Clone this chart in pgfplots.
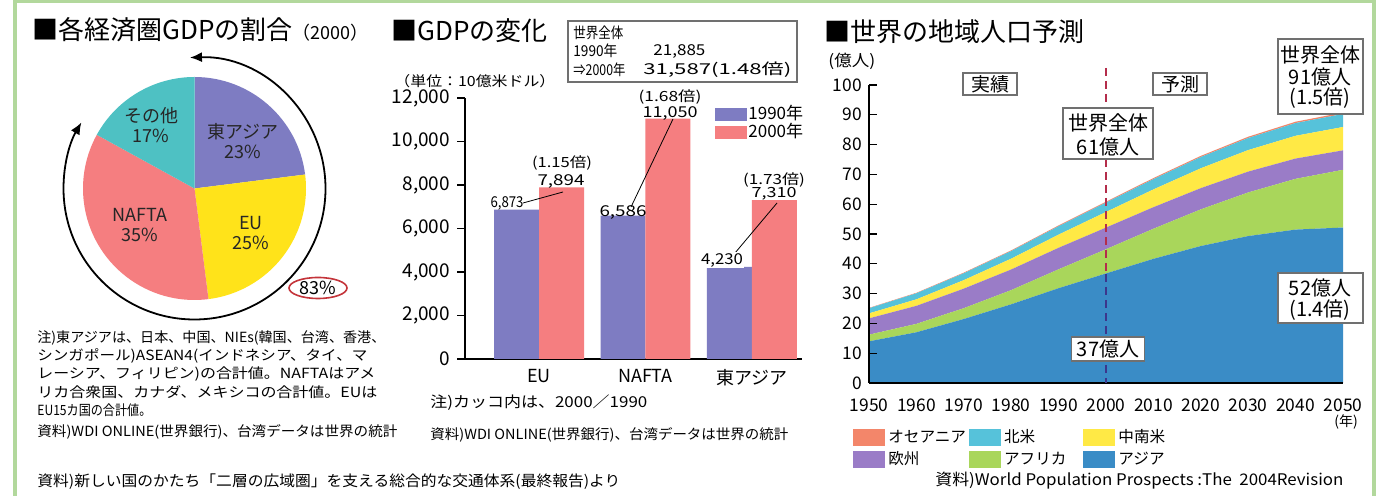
\documentclass[border=0pt]{standalone}
\usepackage{fontspec}
\setmainfont{Noto Sans CJK JP}
\usepackage{graphicx}
\usepackage{pgfplots}
\usepackage{pgfplotstable}
\pgfplotsset{compat=1.18}
\usetikzlibrary{arrows.meta,shapes.geometric}

\newcommand\fw[2]{\resizebox{#1}{\height}{#2}}
\newcommand\fs[1]{\fontsize{#1}{#1}\selectfont}

\definecolor{pPurple}{HTML}{7E7CC2}
\definecolor{pSalmon}{HTML}{F57E80}
\definecolor{pYellow}{HTML}{FFE31A}
\definecolor{pTeal}{HTML}{4EC1C3}
\definecolor{aAsia}{HTML}{3A8CC6}
\definecolor{aAfrica}{HTML}{A9D65B}
\definecolor{aEurope}{HTML}{9A7CC7}
\definecolor{aLatin}{HTML}{FFE945}
\definecolor{aNA}{HTML}{56C2DA}
\definecolor{aOce}{HTML}{F3866A}
\definecolor{frameG}{HTML}{B2D89C}
\definecolor{boxG}{HTML}{707070}
\definecolor{ringRed}{HTML}{C4343A}
\definecolor{dashRed}{HTML}{B42D4B}
\definecolor{dashBlue}{HTML}{3C378C}

\pgfplotstableread{
year asia africa europe latin namer oceania
1950 13.98 2.24 5.47 1.67 1.72 0.13
1960 17.02 2.82 6.05 2.18 2.04 0.16
1970 21.47 3.64 6.56 2.85 2.32 0.20
1980 26.41 4.76 6.93 3.62 2.56 0.23
1990 31.81 6.34 7.22 4.42 2.83 0.27
2000 36.76 8.12 7.28 5.23 3.16 0.31
2010 41.66 10.10 7.23 5.96 3.47 0.35
2020 45.96 12.30 7.13 6.66 3.78 0.39
2030 49.30 14.64 7.00 7.22 4.06 0.42
2040 51.48 17.03 6.81 7.63 4.28 0.45
2050 52.17 19.37 6.53 7.83 4.38 0.48
}\popdata

\pgfplotstableread{
x y1990 y2000
0 6873 7894
1 6586 11050
2 4230 7310
}\gdpdata

% pie shares (%)
\def\shEA{23}\def\shEU{25}\def\shNA{35}\def\shOT{17}

\pgfplotsset{
  sqbar/.style={legend image code/.code={\fill[##1] (0pt,-3.25pt) rectangle (16pt,3.25pt);}},
  sqpop/.style={legend image code/.code={\fill[##1] (0pt,-4.25pt) rectangle (16pt,4.25pt);}},
}

\begin{document}
\begin{tikzpicture}
\useasboundingbox (0,0) rectangle (689.5pt,248pt);
\fill[white] (0,0) rectangle (689.5pt,248pt);

\pgfmathsetmacro\aA{90}
\pgfmathsetmacro\aB{90-3.6*\shEA}
\pgfmathsetmacro\aC{\aB-3.6*\shEU}
\pgfmathsetmacro\aD{\aC-3.6*\shNA}
\pgfmathsetmacro\aE{\aD-3.6*\shOT}

% ---------------- pie ----------------
\begin{axis}[at={(97.25pt,153.75pt)}, anchor=center, scale only axis,
  width=140pt, height=140pt, xmin=-1, xmax=1, ymin=-1, ymax=1,
  hide axis, clip=false]
\fill[pPurple] (axis cs:0,0) -- ++(\aA:55.75pt) arc[start angle=\aA, end angle=\aB, radius=55.75pt] -- cycle;
\fill[pYellow] (axis cs:0,0) -- ++(\aB:55.75pt) arc[start angle=\aB, end angle=\aC, radius=55.75pt] -- cycle;
\fill[pSalmon] (axis cs:0,0) -- ++(\aC:55.75pt) arc[start angle=\aC, end angle=\aD, radius=55.75pt] -- cycle;
\fill[pTeal] (axis cs:0,0) -- ++(\aD:55.75pt) arc[start angle=\aD, end angle=\aE, radius=55.75pt] -- cycle;
\draw[line width=0.9pt, {Latex[length=6pt,width=5pt]}-{Latex[length=6pt,width=5pt]}]
  ([shift={(92:65.5pt)}]axis cs:0,0) arc[start angle=92, end angle=\aD-1.5, radius=65.5pt];
\end{axis}

% ---------------- GDP bars ----------------
\begin{axis}[at={(232.5pt,68.5pt)}, anchor=south west, scale only axis,
  width=168.5pt, height=130.5pt,
  ybar=0pt, bar width=0.4225,
  xmin=-0.695, xmax=2.47, ymin=0, ymax=12000,
  axis x line=bottom, axis y line=left,
  axis line style={-, line width=0.6pt},
  xtick={0,1,2}, xticklabels={EU,NAFTA,東アジア},
  x tick style={draw=none},
  ytick={0,2000,...,12000}, scaled y ticks=false,
  /pgf/number format/assume math mode=true,
  yticklabel style={font=\fs{9.5}},
  xticklabel style={font=\fs{9}, yshift=2.5pt},
  tick align=outside, major tick length=4pt,
  y tick style={line width=0.6pt, black},
  legend style={at={(axis description cs:0.7418,0.973)}, anchor=north west,
    draw=none, fill=none, inner sep=0pt, row sep=0.3pt, column sep=0.5pt,
    font=\fs{8.5}, nodes={inner sep=0pt}},
  legend cell align=left,
]
\addplot[fill=pPurple, draw=none, sqbar] table[x=x,y=y1990] {\gdpdata};
\addplot[fill=pSalmon, draw=none, sqbar] table[x=x,y=y2000] {\gdpdata};
\legend{1990年,2000年}
\end{axis}

% ---------------- population ----------------
\begin{axis}[at={(434.5pt,56.5pt)}, anchor=south west, scale only axis,
  width=237pt, height=149pt,
  xmin=1950, xmax=2050, ymin=0, ymax=100,
  stack plots=y, area style,
  axis x line=bottom, axis y line=left,
  axis line style={-, line width=0.6pt},
  xtick={1950,1960,...,2050}, ytick={0,10,...,100},
  x tick style={draw=none},
  tick align=inside, major tick length=4pt,
  y tick style={line width=0.6pt, black},
  /pgf/number format/assume math mode=true,
  xticklabel style={/pgf/number format/1000 sep={}, font=\fs{8.7}, yshift=-4.5pt},
  yticklabel style={font=\fs{8.7}},
  legend columns=3, reverse legend,
  legend style={at={(axis description cs:-0.0338,-0.1527)}, anchor=north west,
    draw=none, fill=none, inner sep=0pt, row sep=2.5pt, column sep=1.5pt,
    font=\fs{7.8}, nodes={inner sep=0pt}},
  legend cell align=left,
]
\addplot[fill=aAsia, draw=none, sqpop] table[x=year,y=asia] {\popdata} \closedcycle;
\addplot[fill=aAfrica, draw=none, sqpop] table[x=year,y=africa] {\popdata} \closedcycle;
\addplot[fill=aEurope, draw=none, sqpop] table[x=year,y=europe] {\popdata} \closedcycle;
\addplot[fill=aLatin, draw=none, sqpop] table[x=year,y=latin] {\popdata} \closedcycle;
\addplot[fill=aNA, draw=none, sqpop] table[x=year,y=namer] {\popdata} \closedcycle;
\addplot[fill=aOce, draw=none, sqpop] table[x=year,y=oceania] {\popdata} \closedcycle;
\legend{アジア,アフリカ\hspace*{7pt},欧州,中南米,北米,オセアニア}
\end{axis}

% ---------------- annotations (pixel coordinates) ----------------
\begin{scope}[x=0.5pt, y=-0.5pt, yshift=248pt]
\draw[frameG, line width=1.6pt] (15,1) rectangle (1374,520);

% titles
\node[anchor=west, inner sep=0] at (32,30) {\fs{13}■各経済圏GDPの割合\fs{9}（2000）};
\node[anchor=west, inner sep=0] at (391,31) {\fs{13}■GDPの変化};
\node[anchor=west, inner sep=0] at (824,32) {\fs{13}■世界の地域人口予測};

% pie labels
\node[align=center, inner sep=0, font=\fs{9}, text=black!85] at (151,125) {その他\\[1pt]17\%};
\node[align=center, inner sep=0, font=\fs{9}, text=black!85] at (243,141) {東アジア\\[1pt]23\%};
\node[align=center, inner sep=0, font=\fs{9}, text=black!85] at (140,225) {NAFTA\\[1pt]35\%};
\node[align=center, inner sep=0, font=\fs{9}, text=black!85] at (251,233) {EU\\[1pt]25\%};
\node[ellipse, draw=ringRed, line width=0.8pt, minimum width=29pt, minimum height=10.5pt, inner sep=0pt, font=\fs{9}] at (318,288) {83\%};

% pie notes
\node[anchor=west, inner sep=0, font=\fs{7}] at (37,338) {\fw{174pt}{注)東アジアは、日本、中国、NIEs(韓国、台湾、香港、}};
\node[anchor=west, inner sep=0, font=\fs{7}] at (37,356) {\fw{165pt}{シンガポール)ASEAN4(インドネシア、タイ、マ}};
\node[anchor=west, inner sep=0, font=\fs{7}] at (37,374) {\fw{169pt}{レーシア、フィリピン)の合計値。NAFTAはアメ}};
\node[anchor=west, inner sep=0, font=\fs{7}] at (37,392) {\fw{170pt}{リカ合衆国、カナダ、メキシコの合計値。EUは}};
\node[anchor=west, inner sep=0, font=\fs{7}] at (37,410) {\fw{57pt}{EU15カ国の合計値。}};
\node[anchor=west, inner sep=0, font=\fs{7}] at (37,432) {\fw{180pt}{資料)WDI ONLINE(世界銀行)、台湾データは世界の統計}};
\node[anchor=west, inner sep=0, font=\fs{7.5}] at (37,482) {\fw{291.5pt}{資料)新しい国のかたち「二層の広域圏」を支える総合的な交通体系(最終報告)より}};

% GDP panel texts
\draw[boxG, line width=0.6pt] (568,21) rectangle (797,82);
\node[anchor=west, inner sep=0, font=\fs{7.5}] at (573,33) {\fw{25pt}{世界全体}};
\node[anchor=west, inner sep=0, font=\fs{7.5}] at (573,51) {\fw{22pt}{1990年}};
\node[anchor=west, inner sep=0, font=\fs{7.5}] at (653,51) {\fw{26pt}{21,885}};
\node[anchor=west, inner sep=0, font=\fs{7.5}] at (573,70) {\fw{26pt}{⇒2000年}};
\node[anchor=west, inner sep=0, font=\fs{7.5}] at (643,70) {\fw{74pt}{31,587(1.48倍)}};
\node[anchor=west, inner sep=0, font=\fs{7}] at (394,81) {\fw{80.5pt}{（単位：10億米ドル）}};

\draw[line width=0.4pt] (523,203) -- (563,192);
\draw[line width=0.4pt] (631,207) -- (673,119);
\draw[line width=0.4pt] (735,253) -- (777,203);
\node[inner sep=0, font=\fs{7.5}] at (507,203) {\fw{16.5pt}{6,873}};
\node[inner sep=0, font=\fs{7}] at (562,163) {\fw{30pt}{(1.15倍)}};
\node[inner sep=0, font=\fs{7.5}] at (561,181) {\fw{23.5pt}{7,894}};
\node[inner sep=0, font=\fs{7}] at (670,97) {\fw{31.5pt}{(1.68倍)}};
\node[inner sep=0, font=\fs{7.5}] at (670,113) {\fw{27.5pt}{11,050}};
\node[inner sep=0, font=\fs{7.5}] at (623,212) {\fw{23.5pt}{6,586}};
\node[inner sep=0, font=\fs{7}] at (774,180) {\fw{31pt}{(1.73倍)}};
\node[inner sep=0, font=\fs{7}] at (774,194) {\fw{22.5pt}{7,310}};
\node[inner sep=0.5pt, fill=white, font=\fs{7.5}] at (722,260) {\fw{21pt}{4,230}};

\node[anchor=west, inner sep=0, font=\fs{7.5}] at (430,403) {\fw{108.5pt}{注)カッコ内は、2000／1990}};
\node[anchor=west, inner sep=0, font=\fs{7}] at (430,435) {\fw{179pt}{資料)WDI ONLINE(世界銀行)、台湾データは世界の統計}};

% population panel texts
\node[anchor=west, inner sep=0, font=\fs{8}] at (828,61) {\fw{23.5pt}{(億人)}};
\draw[dashRed, line width=1.4pt, dash pattern=on 4pt off 2.5pt] (1106,68) -- (1106,274);
\draw[dashBlue, line width=1.4pt, dash pattern=on 4pt off 2.5pt] (1106,274) -- (1106,383);

\tikzset{pbox/.style={draw=boxG, fill=white, line width=0.6pt}}
\node[pbox, minimum width=27pt, minimum height=11pt, inner sep=0, font=\fs{9.5}] at (990,84) {実績};
\node[pbox, minimum width=27pt, minimum height=11pt, inner sep=0, font=\fs{9.5}] at (1180,84) {予測};
\draw[pbox] (1063,108) rectangle (1153,159);
\node[inner sep=0, font=\fs{10}] at (1108,123) {世界全体};
\node[inner sep=0, font=\fs{10}] at (1108,147) {61億人};
\draw[pbox] (1278,39) rectangle (1363,114);
\node[inner sep=0, font=\fs{10}] at (1320,55) {世界全体};
\node[inner sep=0, font=\fs{10}] at (1320,77) {91億人};
\node[inner sep=0, font=\fs{10}] at (1320,98) {(1.5倍)};
\draw[pbox] (1278,273) rectangle (1363,323);
\node[inner sep=0, font=\fs{10}] at (1320,288) {52億人};
\node[inner sep=0, font=\fs{10}] at (1320,310) {(1.4倍)};
\node[pbox, minimum width=36.5pt, minimum height=12pt, inner sep=0, font=\fs{10}] at (1108,349) {37億人};
\node[inner sep=0, font=\fs{7}] at (1346,422) {(年)};
\node[anchor=west, inner sep=0, font=\fs{8}] at (935,481) {\fw{204pt}{資料)World Population Prospects :The\ \ 2004Revision}};
\end{scope}
\end{tikzpicture}
\end{document}
